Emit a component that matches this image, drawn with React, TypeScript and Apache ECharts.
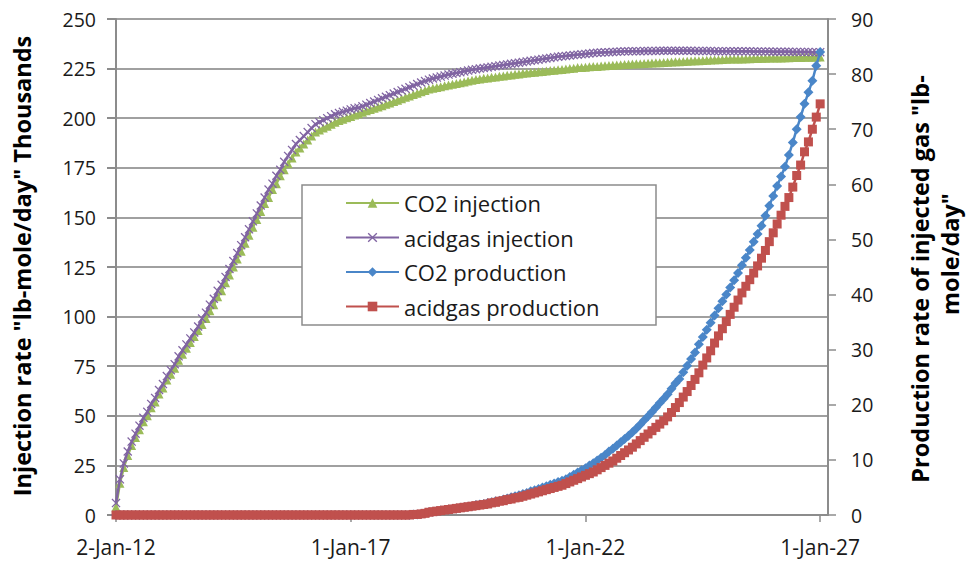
import { useEffect, useRef } from "react";
import * as echarts from "echarts";

const xTickLabels = ["2-Jan-12", "1-Jan-17", "1-Jan-22", "1-Jan-27"];
const xTickMonths = [0, 60, 120, 180];

// monthly values, thousands lb-mole/day (left axis)
const co2Injection = [
  4, 16, 24, 30, 35, 39, 43, 47, 50, 54,
  57, 61, 64, 68, 71, 74, 78, 81, 84, 87,
  90, 93, 96, 99, 103, 106, 110, 113, 117, 121,
  125, 129, 133, 137, 141, 145, 149, 153, 157, 160,
  164, 167, 171, 174, 177, 180, 183, 185, 187, 189,
  191, 193, 194, 195, 196, 197, 198, 198.8, 199.5, 200.2,
  200.9, 201.6, 202.3, 203, 203.7, 204.4, 205, 205.6, 206.3, 207,
  207.7, 208.4, 209.1, 209.8, 210.5, 211.2, 211.9, 212.6, 213.3, 214,
  214.7, 215.1, 215.5, 215.9, 216.3, 216.7, 217.1, 217.5, 217.9, 218.3,
  218.7, 219.1, 219.5, 219.8, 220.1, 220.3, 220.6, 220.8, 221.1, 221.3,
  221.6, 221.8, 222.1, 222.3, 222.6, 222.8, 223, 223.2, 223.4, 223.6,
  223.8, 224, 224.2, 224.4, 224.6, 224.8, 225, 225.2, 225.5, 225.6,
  225.7, 225.9, 226, 226.1, 226.3, 226.4, 226.5, 226.7, 226.8, 226.9,
  227.1, 227.2, 227.3, 227.4, 227.5, 227.6, 227.7, 227.8, 227.9, 228,
  228.1, 228.2, 228.3, 228.4, 228.5, 228.6, 228.7, 228.8, 228.9, 229,
  229.1, 229.2, 229.3, 229.4, 229.5, 229.6, 229.7, 229.8, 229.8, 229.9,
  229.9, 230, 230, 230.1, 230.1, 230.2, 230.2, 230.3, 230.3, 230.4,
  230.4, 230.5, 230.5, 230.6, 230.6, 230.6, 230.7, 230.7, 230.7, 230.8,
  230.8,
];

const acidgasInjection = [
  6, 18, 26, 32, 37, 41, 45, 49, 52, 56,
  59, 63, 66, 70, 73, 76, 80, 83, 86, 89,
  92, 95, 99, 102, 106, 109, 113, 116, 120, 124,
  128, 132, 136, 140, 144, 148, 152, 156, 160, 164,
  167, 171, 174, 178, 181, 184, 187, 189, 191, 193,
  195, 197, 198, 199, 200, 201, 202, 202.6, 203.2, 203.8,
  204.4, 205, 205.3, 206, 206.8, 207.6, 208.4, 209.2, 210, 210.8,
  211.6, 212.4, 213.2, 214, 214.8, 215.6, 216.4, 217.2, 218, 218.7,
  219.4, 220, 220.5, 221, 221.5, 222, 222.4, 222.8, 223.2, 223.6,
  224, 224.4, 224.7, 225, 225.3, 225.6, 225.9, 226.2, 226.5, 226.8,
  227.1, 227.4, 227.7, 228, 228.3, 228.6, 228.9, 229.2, 229.5, 229.8,
  230.1, 230.4, 230.7, 231, 231.2, 231.4, 231.6, 231.8, 232, 232.2,
  232.4, 232.6, 232.8, 233, 233.1, 233.2, 233.3, 233.4, 233.5, 233.6,
  233.7, 233.7, 233.8, 233.8, 233.8, 233.9, 233.9, 233.9, 233.9, 234,
  234, 234, 234, 234, 234, 234, 234, 234, 233.9, 233.9,
  233.9, 233.9, 233.9, 233.8, 233.8, 233.8, 233.8, 233.8, 233.7, 233.7,
  233.7, 233.7, 233.7, 233.6, 233.6, 233.6, 233.6, 233.6, 233.5, 233.5,
  233.5, 233.5, 233.5, 233.4, 233.4, 233.4, 233.4, 233.4, 233.3, 233.3,
  233.3,
];

// monthly values, lb-mole/day (right axis)
const co2Production = [
  0, 0, 0, 0, 0, 0, 0, 0, 0, 0,
  0, 0, 0, 0, 0, 0, 0, 0, 0, 0,
  0, 0, 0, 0, 0, 0, 0, 0, 0, 0,
  0, 0, 0, 0, 0, 0, 0, 0, 0, 0,
  0, 0, 0, 0, 0, 0, 0, 0, 0, 0,
  0, 0, 0, 0, 0, 0, 0, 0, 0, 0,
  0, 0, 0, 0, 0, 0, 0, 0, 0, 0,
  0, 0, 0, 0, 0, 0, 0.1, 0.1, 0.2, 0.3,
  0.5, 0.6, 0.7, 0.8, 0.9, 1.0, 1.1, 1.2, 1.3, 1.4,
  1.5, 1.6, 1.8, 1.9, 2.0, 2.2, 2.3, 2.5, 2.6, 2.8,
  3.0, 3.2, 3.4, 3.6, 3.8, 4.0, 4.3, 4.5, 4.7, 5.0,
  5.2, 5.5, 5.7, 6.0, 6.2, 6.5, 6.9, 7.3, 7.7, 8.1,
  8.5, 9.0, 9.4, 9.9, 10.4, 10.9, 11.5, 12.0, 12.6, 13.2,
  13.8, 14.4, 15.0, 15.7, 16.4, 17.2, 17.9, 18.7, 19.5, 20.3,
  21.1, 21.9, 22.9, 23.9, 24.7, 25.9, 27.1, 28.3, 29.5, 31.0,
  32.3, 33.6, 34.9, 36.2, 37.5, 38.8, 40.0, 41.3, 42.6, 43.9,
  45.3, 46.7, 48.1, 49.6, 51.0, 52.5, 54.3, 56.1, 57.9, 59.7,
  61.4, 63.2, 65.3, 67.6, 70.0, 72.2, 74.6, 76.7, 78.8, 81.5,
  84.0,
];

const acidgasProduction = [
  0, 0, 0, 0, 0, 0, 0, 0, 0, 0,
  0, 0, 0, 0, 0, 0, 0, 0, 0, 0,
  0, 0, 0, 0, 0, 0, 0, 0, 0, 0,
  0, 0, 0, 0, 0, 0, 0, 0, 0, 0,
  0, 0, 0, 0, 0, 0, 0, 0, 0, 0,
  0, 0, 0, 0, 0, 0, 0, 0, 0, 0,
  0, 0, 0, 0, 0, 0, 0, 0, 0, 0,
  0, 0, 0, 0, 0, 0, 0.1, 0.1, 0.2, 0.3,
  0.5, 0.6, 0.7, 0.8, 0.9, 1.0, 1.1, 1.2, 1.3, 1.4,
  1.5, 1.6, 1.7, 1.8, 1.9, 2.0, 2.2, 2.3, 2.5, 2.6,
  2.8, 2.9, 3.1, 3.2, 3.4, 3.6, 3.8, 4.0, 4.2, 4.4,
  4.6, 4.8, 5.0, 5.2, 5.4, 5.7, 6.0, 6.3, 6.6, 6.9,
  7.2, 7.5, 7.8, 8.2, 8.6, 9.0, 9.4, 9.8, 10.3, 10.8,
  11.3, 11.8, 12.3, 12.9, 13.5, 14.1, 14.7, 15.3, 15.9, 16.5,
  17.1, 17.8, 18.6, 19.5, 20.4, 21.4, 22.4, 23.5, 24.6, 25.8,
  27.2, 28.5, 29.8, 31.2, 32.5, 33.8, 35.1, 36.4, 37.7, 39.0,
  40.3, 41.5, 42.7, 43.9, 45.2, 46.6, 48.0, 49.6, 51.2, 52.8,
  54.4, 56.0, 57.6, 59.5, 61.6, 63.5, 65.9, 67.7, 70.0, 72.2,
  74.6,
];

const seriesNames = ["CO2 injection", "acidgas injection", "CO2 production", "acidgas production"];
const seriesColors = ["#9bbb59", "#8064a2", "#4a86c8", "#c0504d"];

const FONT = '"Open Sans", "Liberation Sans", sans-serif';
const X_SYMBOL = "path://M0,1 L1,0 L5,4 L9,0 L10,1 L6,5 L10,9 L9,10 L5,6 L1,10 L0,9 L4,5 Z";

const toPairs = (arr: number[]) => arr.map((v, i) => [i, v]);

export default function App() {
  const ref = useRef<HTMLDivElement>(null);
  useEffect(() => {
    if (!ref.current) return;
    const chart = echarts.init(ref.current, undefined, { renderer: "svg" });
    const axisColor = "#8c8c8c";
    const labelStyle = { color: "#1a1a1a", fontSize: 19.5, fontFamily: FONT };
    const mk = (idx: number, data: number[], symbol: string, size: number, yAxisIndex: number) => ({
      name: seriesNames[idx],
      type: "line",
      yAxisIndex,
      data: toPairs(data),
      symbol,
      symbolSize: size,
      showSymbol: true,
      lineStyle: { color: seriesColors[idx], width: 2.5 },
      itemStyle: { color: seriesColors[idx] },
      emphasis: { disabled: true },
      z: 2 + idx,
    });
    const titleFont = `bold 23.5px ${FONT}`;
    chart.setOption({
      animation: false,
      backgroundColor: "#ffffff",
      grid: { left: 116, right: 138, top: 19, bottom: 46, containLabel: false },
      xAxis: {
        type: "value",
        min: 0,
        max: 182,
        interval: 60,
        axisLine: { show: true, lineStyle: { color: axisColor, width: 2 } },
        axisTick: { show: true, length: 7, customValues: xTickMonths, lineStyle: { color: axisColor, width: 1.5 } },
        axisLabel: {
          ...labelStyle,
          fontSize: 21,
          margin: 21,
          customValues: xTickMonths,
          formatter: (v: number) => xTickLabels[Math.round(v / 60)] ?? "",
        },
        splitLine: { show: false },
      },
      yAxis: [
        {
          type: "value",
          min: 0,
          max: 250,
          interval: 25,
          position: "left",
          axisLine: { show: true, lineStyle: { color: axisColor, width: 2 } },
          axisTick: { show: true, length: 9, lineStyle: { color: axisColor, width: 2 } },
          axisLabel: { ...labelStyle, margin: 20 },
          splitLine: { show: true, lineStyle: { color: "#a0a0a0", width: 2 } },
        },
        {
          type: "value",
          min: 0,
          max: 90,
          interval: 10,
          position: "right",
          axisLine: { show: true, lineStyle: { color: axisColor, width: 2 } },
          axisTick: { show: true, length: 8, lineStyle: { color: axisColor, width: 1.5 } },
          axisLabel: { ...labelStyle, margin: 23 },
          splitLine: { show: false },
        },
      ],
      legend: {
        orient: "vertical",
        left: 302,
        top: 185,
        padding: [7, 20, 7, 43],
        itemGap: 12.5,
        itemWidth: 53,
        itemHeight: 12,
        textStyle: { color: "#1a1a1a", fontSize: 22, fontFamily: FONT, lineHeight: 22 },
        data: seriesNames,
        z: 10,
      },
      graphic: [
        {
          type: "rect",
          z: 8,
          shape: { x: 302, y: 185, width: 354, height: 140 },
          style: { fill: "#ffffff", stroke: "#8c8c8c", lineWidth: 1.5 },
        },
        {
          type: "text",
          x: 22,
          y: 266,
          rotation: Math.PI / 2,
          style: {
            text: 'Injection rate "lb-mole/day" Thousands',
            font: titleFont,
            fill: "#000",
            align: "center",
            verticalAlign: "middle",
          },
        },
        {
          type: "text",
          x: 920,
          y: 279,
          rotation: Math.PI / 2,
          style: {
            text: 'Production rate of injected gas "lb-',
            font: titleFont,
            fill: "#000",
            align: "center",
            verticalAlign: "middle",
          },
        },
        {
          type: "text",
          x: 950,
          y: 254,
          rotation: Math.PI / 2,
          style: {
            text: 'mole/day"',
            font: titleFont,
            fill: "#000",
            align: "center",
            verticalAlign: "middle",
          },
        },
      ],
      series: [
        mk(0, co2Injection, "triangle", 9, 0),
        mk(1, acidgasInjection, X_SYMBOL, 9, 0),
        mk(2, co2Production, "diamond", 10, 1),
        mk(3, acidgasProduction, "rect", 9, 1),
      ],
    });
    return () => chart.dispose();
  }, []);
  return <div ref={ref} style={{ width: 966, height: 561, position: "absolute", left: 0, top: 0 }} />;
}
